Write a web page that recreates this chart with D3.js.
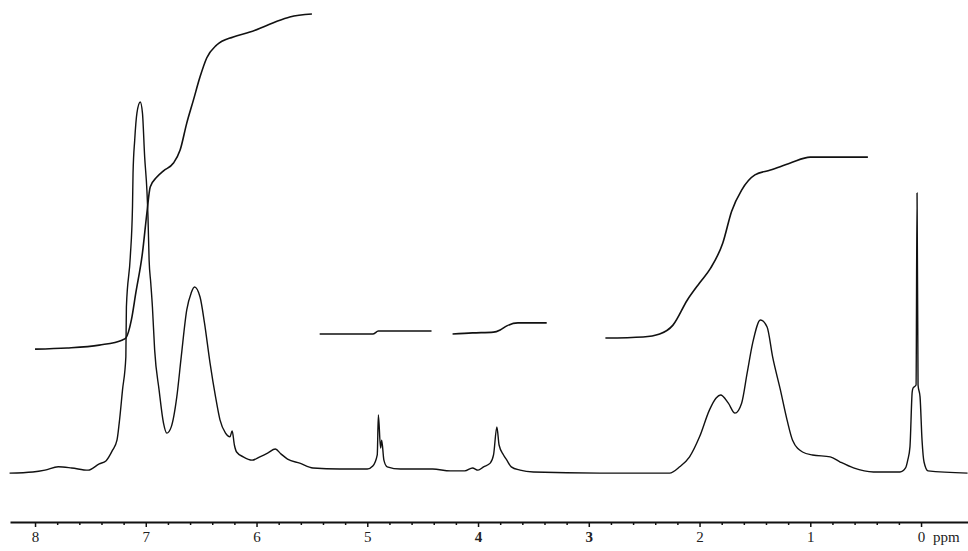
<!DOCTYPE html>
<html>
<head>
<meta charset="utf-8">
<script src="https://cdn.jsdelivr.net/npm/d3@7/dist/d3.min.js"></script>
<style>
  html, body { margin: 0; padding: 0; background: #fff; }
  svg { display: block; }
</style>
</head>
<body>
<svg id="chart" width="968" height="551"></svg>
<script>
// ---- data (chemical shift in ppm, relative intensity) ----
const spectrumPpm = [8.23, 8.02, 7.91, 7.79, 7.67, 7.52, 7.42, 7.36, 7.30, 7.26, 7.24, 7.21, 7.18, 7.175, 7.14, 7.12, 7.115, 7.10, 7.08, 7.05,
  7.03, 7.01, 6.99, 6.98, 6.97, 6.955, 6.94, 6.92, 6.88, 6.84, 6.81, 6.77, 6.72, 6.68, 6.63, 6.59, 6.56, 6.51, 6.47, 6.42,
  6.37, 6.33, 6.28, 6.24, 6.22, 6.20, 6.18, 6.12, 6.04, 5.97, 5.90, 5.83, 5.78, 5.72, 5.61, 5.49, 5.25, 5.00, 4.95, 4.91,
  4.90, 4.88, 4.87, 4.85, 4.82, 4.70, 4.41, 4.25, 4.12, 4.05, 4.00, 3.95, 3.89, 3.86, 3.83, 3.81, 3.77, 3.74, 3.70, 3.62,
  3.50, 2.90, 2.27, 2.18, 2.09, 2.00, 1.91, 1.85, 1.81, 1.74, 1.68, 1.62, 1.57, 1.52, 1.45, 1.39, 1.34, 1.27, 1.21, 1.16,
  1.07, 0.98, 0.82, 0.73, 0.61, 0.43, 0.19, 0.14, 0.12, 0.10, 0.08, 0.072, 0.045, 0.036, 0.027, 0.009, -0.009, -0.027, -0.063, -0.42];
const spectrumInt = [-0.3, 0.0, 0.5, 1.4, 1.1, 0.5, 2.2, 3.0, 5.9, 8.6, 13.2, 22.2, 31.1, 44.6, 58.1, 71.6, 80.8, 89.7, 97.0, 100,
  97.0, 85.1, 76.2, 68.9, 57.3, 51.1, 44.6, 33.0, 22.2, 13.2, 10.5, 12.2, 20.3, 31.1, 43.8, 48.4, 50.0, 47.3, 40.3, 29.5,
  20.3, 14.1, 10.5, 9.5, 11.1, 7.3, 5.4, 4.1, 3.2, 4.1, 5.1, 6.2, 4.9, 3.5, 2.4, 1.1, 0.8, 0.8, 1.6, 4.6,
  15.4, 6.5, 8.6, 3.2, 1.4, 0.8, 0.8, 0.3, 0.3, 1.1, 0.5, 1.4, 2.4, 4.6, 12.2, 7.3, 4.6, 3.2, 1.4, 0.5,
  0.0, -0.3, -0.3, 1.4, 4.1, 9.5, 16.8, 20.0, 20.8, 18.6, 15.9, 18.6, 26.8, 34.9, 41.1, 39.2, 31.1, 22.2, 14.1, 8.6,
  5.4, 4.6, 4.1, 2.7, 1.1, 0.0, 0.0, 1.1, 3.2, 6.8, 21.6, 22.7, 23.5, 75.4, 23.5, 20.3, 8.6, 2.7, 0.3, -0.3];

// integral traces (ppm, integral height in the same units)
const integral1Ppm = [8.00, 7.71, 7.42, 7.21, 7.18, 7.13, 7.09, 7.03, 6.99, 6.96, 6.90, 6.84, 6.75, 6.69, 6.63, 6.57, 6.51, 6.45, 6.36, 6.21, 6.06, 5.94, 5.81, 5.70, 5.50];
const integral1Val = [33.2, 33.5, 34.3, 35.7, 36.2, 41.1, 48.4, 59.2, 70.0, 77.0, 79.7, 81.4, 83.5, 87.0, 94.3, 100.5, 106.8, 111.9, 115.4, 117.6, 118.9, 120.3, 121.9, 123.0, 123.8];
const integral2Ppm = [5.43, 4.95, 4.90, 4.42];
const integral2Val = [37.3, 37.3, 38.1, 38.1];
const integral3Ppm = [4.23, 4.05, 3.86, 3.80, 3.74, 3.64, 3.38];
const integral3Val = [37.3, 37.6, 37.8, 38.4, 39.5, 40.3, 40.3];
const integral4Ppm = [2.85, 2.51, 2.36, 2.24, 2.11, 2.00, 1.90, 1.79, 1.71, 1.62, 1.50, 1.36, 1.18, 1.00, 0.79, 0.48];
const integral4Val = [36.2, 36.5, 37.3, 39.7, 46.5, 51.1, 55.1, 61.9, 70.5, 76.2, 80.3, 81.6, 83.5, 85.1, 85.1, 85.1];

const majorTicks = [8, 7, 6, 5, 4, 3, 2, 1, 0];
const boldTicks = [4, 3];
const axisUnit = "ppm";

// ---- drawing ----
const svg = d3.select("#chart");
const x = d3.scaleLinear().domain([8.226, -0.424]).range([10, 968]);
const y = d3.scaleLinear().domain([0, 100]).range([472, 102]);

const spectrumLine = d3.line().x(d => x(d[0])).y(d => y(d[1])).curve(d3.curveMonotoneX);
const integralLine = d3.line().x(d => x(d[0])).y(d => y(d[1])).curve(d3.curveMonotoneX);

const spectrum = d3.zip(spectrumPpm, spectrumInt);
svg.append("path").datum(spectrum)
  .attr("d", spectrumLine)
  .attr("fill", "none").attr("stroke", "#111").attr("stroke-width", 1.4)
  .attr("stroke-linejoin", "round");

const integrals = [
  d3.zip(integral1Ppm, integral1Val),
  d3.zip(integral2Ppm, integral2Val),
  d3.zip(integral3Ppm, integral3Val),
  d3.zip(integral4Ppm, integral4Val)
];
svg.selectAll("path.integral").data(integrals).join("path")
  .attr("class", "integral")
  .attr("d", integralLine)
  .attr("fill", "none").attr("stroke", "#111").attr("stroke-width", 1.6)
  .attr("stroke-linejoin", "round");

// axis
const axisY = 522;
const minorTicks = d3.range(0, 8.001, 0.2).map(v => +v.toFixed(1)).filter(v => !majorTicks.includes(v));
svg.append("g").attr("transform", `translate(0,${axisY})`)
  .call(d3.axisBottom(x).tickValues(minorTicks).tickSize(3).tickFormat("").tickSizeOuter(0))
  .call(g => g.select(".domain").remove())
  .call(g => g.selectAll("line").attr("stroke", "#111").attr("stroke-width", 1.5));

const ax = svg.append("g").attr("transform", `translate(0,${axisY})`)
  .call(d3.axisBottom(x).tickValues(majorTicks).tickSize(5).tickPadding(4).tickSizeOuter(0).tickFormat(d3.format("d")));
ax.select(".domain").attr("stroke", "#111").attr("stroke-width", 2.2);
ax.selectAll("line").attr("stroke", "#111").attr("stroke-width", 1.5);
ax.selectAll("text")
  .attr("font-family", "'Liberation Serif', serif")
  .attr("font-size", 15)
  .attr("fill", "#222")
  .attr("font-weight", d => boldTicks.includes(d) ? "bold" : "normal");

svg.append("text")
  .attr("x", x(0) + 12).attr("y", axisY + 9).attr("dy", "0.71em")
  .attr("font-family", "'Liberation Serif', serif").attr("font-size", 15).attr("fill", "#222")
  .text(axisUnit);
</script>
</body>
</html>
